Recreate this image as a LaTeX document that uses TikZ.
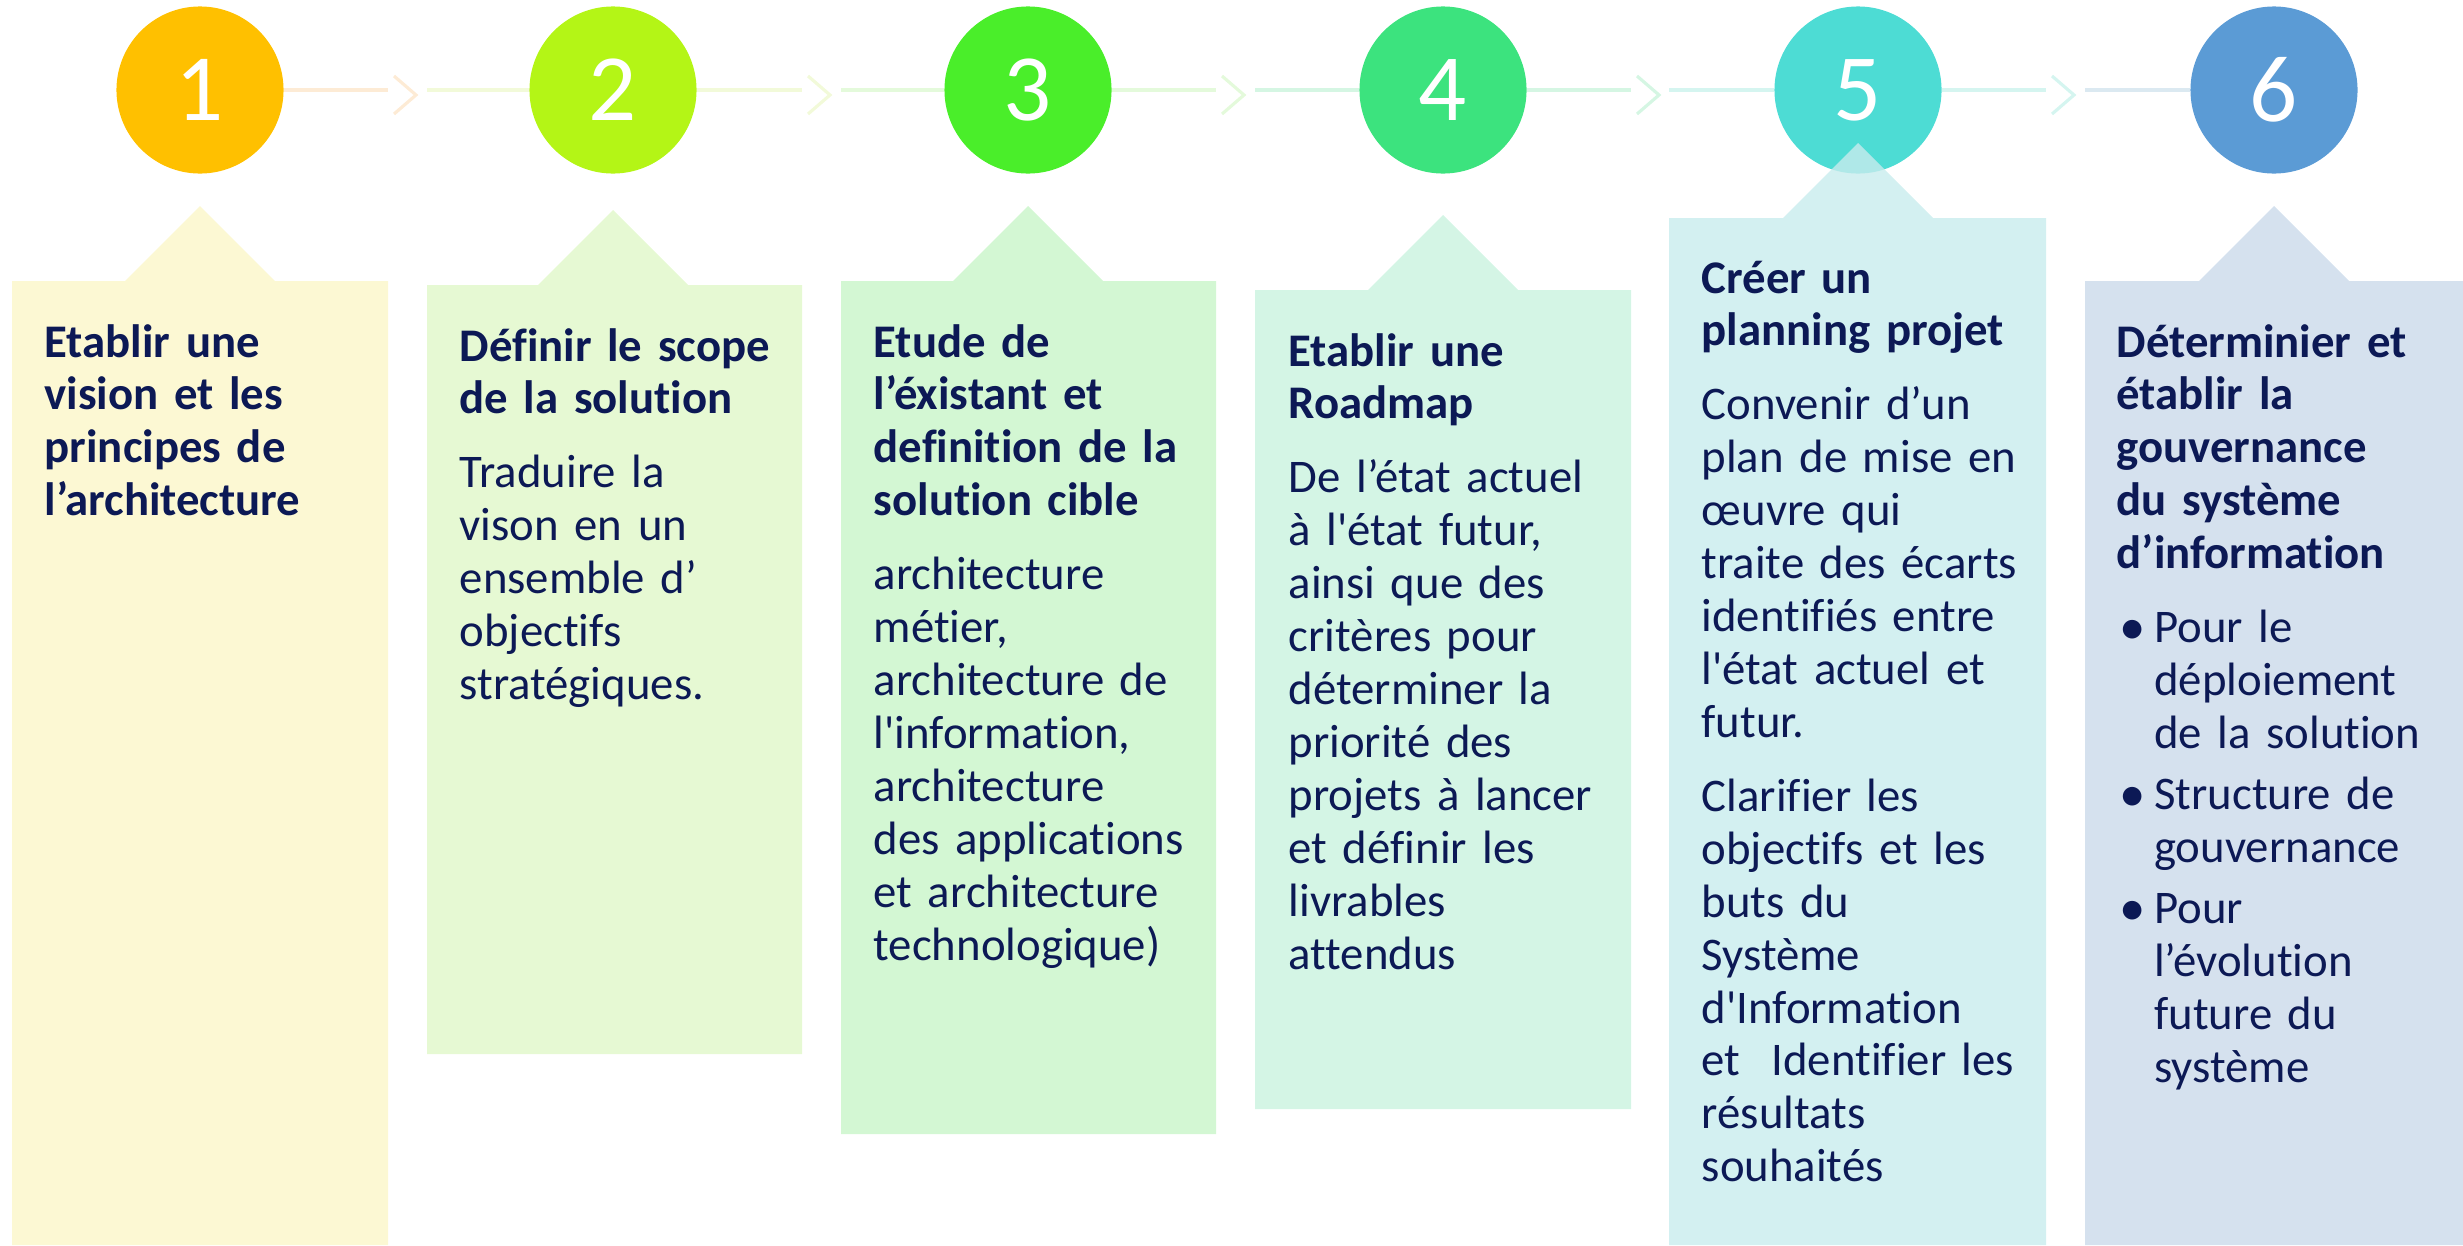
\documentclass[tikz,border=0pt]{standalone}
\usepackage{fontspec}
\setmainfont{Carlito}[Ligatures={TeXOff,NoCommon}]
\definecolor{StepOne}{RGB}{255, 192, 0}
\definecolor{StepTwo}{RGB}{180, 245, 22}
\definecolor{StepThree}{RGB}{74, 238, 42}
\definecolor{StepFour}{RGB}{60, 227, 126}
\definecolor{StepFive}{RGB}{77, 220, 212}
\definecolor{StepSix}{RGB}{91, 155, 213}
\definecolor{BoxOne}{RGB}{251, 246, 200}
\definecolor{BoxTwo}{RGB}{224, 248, 200}
\definecolor{BoxThree}{RGB}{200, 245, 200}
\definecolor{BoxFour}{RGB}{201, 243, 223}
\definecolor{BoxFive}{RGB}{200, 236, 237}
\definecolor{BoxSix}{RGB}{203, 218, 234}
\definecolor{LinkOne}{RGB}{253, 235, 213}
\definecolor{LinkTwo}{RGB}{242, 250, 217}
\definecolor{LinkThree}{RGB}{228, 250, 219}
\definecolor{LinkFour}{RGB}{213, 246, 227}
\definecolor{LinkFive}{RGB}{213, 245, 240}
\definecolor{LinkSix}{RGB}{219, 233, 241}
\definecolor{TextBlue}{RGB}{12, 25, 85}
\newcommand{\lw}{0.9pt}
\newcommand{\gap}{0.21cm}
\newcommand{\bul}{\hspace*{0.03cm}\makebox[0.345cm][l]{\fontsize{15pt}{0pt}\selectfont\raisebox{-0.02cm}{\textbullet}}}
\newcommand{\hang}{\hspace*{0.375cm}}

\begin{document}
\begin{tikzpicture}[x=0.01cm, y=-0.01cm,
  stepnum/.style={circle, fill=#1, minimum size=1.67cm, inner sep=0pt, text=white,
    font=\fontsize{27pt}{27pt}\selectfont},
  stepbox/.style={fill=#1, fill opacity=0.8},
  link/.style={draw=#1, line width=\lw},
  steptext/.style={anchor=base west, inner sep=0pt, text width=3.4cm, align=left,
    text=TextBlue, font=\fontsize{13.3pt}{15.05pt}\selectfont}]
  \useasboundingbox (0,0) rectangle (2463,1245);

  % numbered steps
  \node[stepnum=StepOne]   (n1) at (200, 90) {1};
  \node[stepnum=StepTwo]   (n2) at (613, 90) {2};
  \node[stepnum=StepThree] (n3) at (1028,90) {3};
  \node[stepnum=StepFour]  (n4) at (1443,90) {4};
  \node[stepnum=StepFive]  (n5) at (1858,90) {5};
  \node[stepnum=StepSix]   (n6) at (2274,90) {6};

  \coordinate (r1) at (388, 90);
  \coordinate (l2) at (427, 90);  \coordinate (r2) at (802, 90);
  \coordinate (l3) at (841, 90);  \coordinate (r3) at (1216,90);
  \coordinate (l4) at (1255,90);  \coordinate (r4) at (1631,90);
  \coordinate (l5) at (1669,90);  \coordinate (r5) at (2046,90);
  \coordinate (l6) at (2085,90);

  % links and chevrons
  \draw[link=LinkOne]   (n1) -- (r1);
  \draw[link=LinkOne]   (r1) ++(6,-14) -- ++(22,19) -- ++(-22,19);
  \draw[link=LinkTwo]   (l2) -- (n2) (n2) -- (r2);
  \draw[link=LinkTwo]   (r2) ++(6,-14) -- ++(22,19) -- ++(-22,19);
  \draw[link=LinkThree] (l3) -- (n3) (n3) -- (r3);
  \draw[link=LinkThree] (r3) ++(6,-14) -- ++(22,19) -- ++(-22,19);
  \draw[link=LinkFour]  (l4) -- (n4) (n4) -- (r4);
  \draw[link=LinkFour]  (r4) ++(6,-14) -- ++(22,19) -- ++(-22,19);
  \draw[link=LinkFive]  (l5) -- (n5) (n5) -- (r5);
  \draw[link=LinkFive]  (r5) ++(6,-14) -- ++(22,19) -- ++(-22,19);
  \draw[link=LinkSix]   (l6) -- (n6);

  % call-out boxes
  \fill[stepbox=BoxOne]   (12,281)   -- (125,281)  -- (200,206)  -- (275,281)  -- (388,281)  -- (388,1245)  -- (12,1245)   -- cycle;
  \fill[stepbox=BoxTwo]   (427,285)  -- (538,285)  -- (613,210)  -- (688,285)  -- (802,285)  -- (802,1054)  -- (427,1054)  -- cycle;
  \fill[stepbox=BoxThree] (841,281)  -- (953,281)  -- (1028,206) -- (1103,281) -- (1216,281) -- (1216,1134) -- (841,1134)  -- cycle;
  \fill[stepbox=BoxFour]  (1255,290) -- (1368,290) -- (1443,215) -- (1518,290) -- (1631,290) -- (1631,1109) -- (1255,1109) -- cycle;
  \fill[stepbox=BoxFive]  (1669,218) -- (1783,218) -- (1858,143) -- (1933,218) -- (2046,218) -- (2046,1245) -- (1669,1245) -- cycle;
  \fill[stepbox=BoxSix]   (2085,281) -- (2199,281) -- (2274,206) -- (2349,281) -- (2463,281) -- (2463,1245) -- (2085,1245) -- cycle;

  \node[steptext] (t1) at (44,357) {{\bfseries Etablir une\\ vision et les\\ principes de\\ l’architecture}};
  \node[steptext] (t2) at (459,361) {{\bfseries Définir le scope\\ de la solution}\\[\gap]
    Traduire la\\ vison en un\\ ensemble d’\\ objectifs\\ stratégiques.};
  \node[steptext] (t3) at (873,357) {{\bfseries Etude de\\ l’éxistant et\\ definition de la\\ solution cible}\\[\gap]
    architecture\\ métier,\\ architecture de\\ l'information,\\ architecture\\ des applications\\ et architecture\\ technologique)};
  \node[steptext] (t4) at (1288,366) {{\bfseries Etablir une\\ Roadmap}\\[\gap]
    De l’état actuel\\ à l'état futur,\\ ainsi que des\\ critères pour\\ déterminer la\\ priorité des\\ projets à lancer\\ et définir les\\ livrables\\ attendus};
  \node[steptext] (t5) at (1701,293) {{\bfseries Créer un\\ planning projet}\\[\gap]
    Convenir d’un\\ plan de mise en\\ œuvre qui\\ traite des écarts\\ identifiés entre\\ l'état actuel et\\ futur.\\[\gap]
    Clarifier les\\ objectifs et les\\ buts du\\ Système\\ d'Information\\ et~ Identifier les\\ résultats\\ souhaités};
  \node[steptext] (t6) at (2116,357) {{\bfseries Déterminier et\\ établir la\\ gouvernance\\ du système\\ d’information}\\[\gap]
    \bul Pour le\\ \hang déploiement\\ \hang de la solution\\[0.08cm]
    \bul Structure de\\ \hang gouvernance\\[0.08cm]
    \bul Pour\\ \hang l’évolution\\ \hang future du\\ \hang système};
\end{tikzpicture}
\end{document}
